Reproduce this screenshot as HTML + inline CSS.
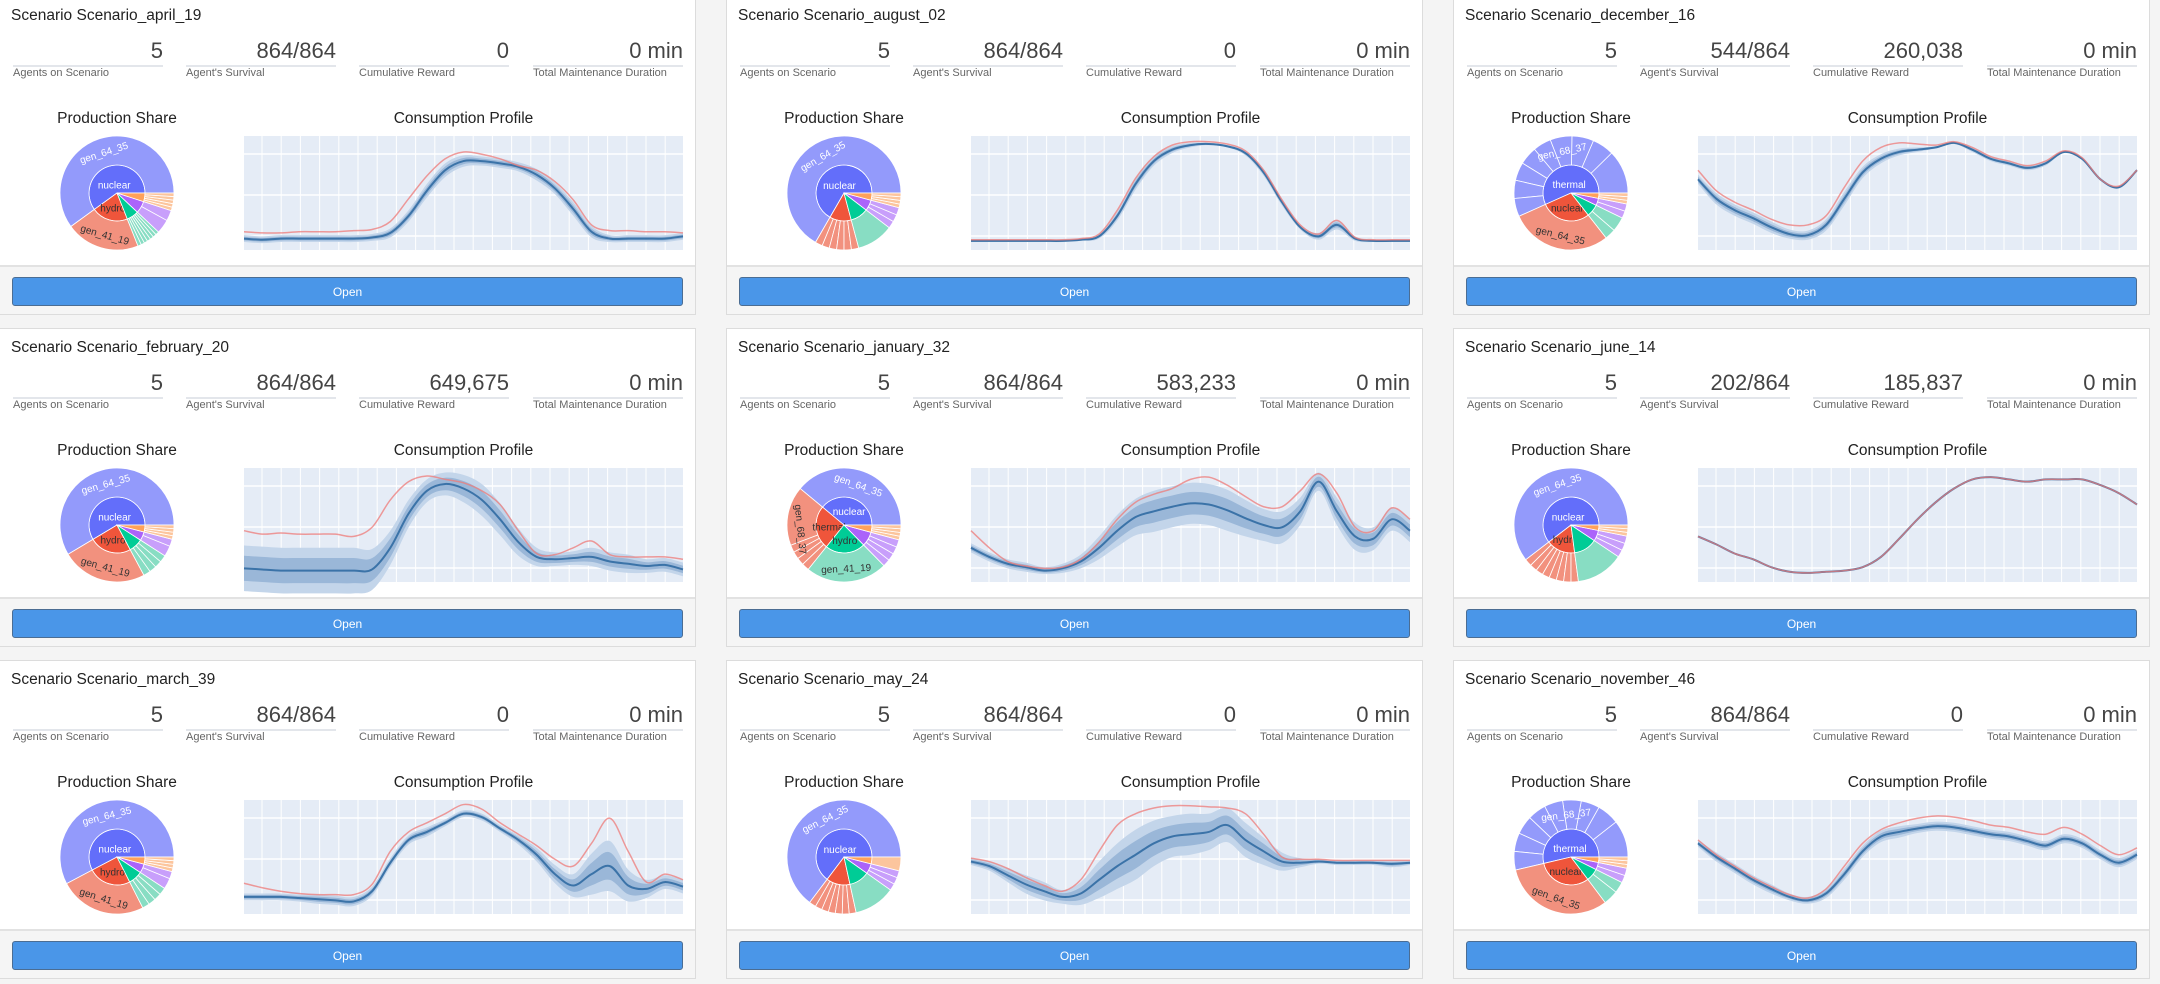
<!DOCTYPE html>
<html><head><meta charset="utf-8"><style>
body{margin:0;width:2160px;height:984px;overflow:hidden;background:#f4f4f4;font-family:"Liberation Sans",sans-serif;position:relative}
.card{position:absolute;width:697px;height:319px;background:#fff;border:1px solid #dcdcdc;box-sizing:border-box}
.foot{position:absolute;left:0;right:0;top:268px;bottom:0;background:#f5f5f5;border-top:2px solid #e2e2e2}
.title{position:absolute;left:11px;top:10px;font-size:15.5px;color:#222}
.stat{position:absolute;top:40px;width:150px;height:28px;border-bottom:2px solid #e3e6eb;text-align:right;font-size:22px;color:#444;line-height:28px}
.lab{position:absolute;top:70px;font-size:11px;color:#666}
.ct{position:absolute;top:113px;font-size:15.5px;color:#222;text-align:center}
.btn{position:absolute;left:12px;width:671px;top:10px;height:29px;background:#4a96e8;border:1px solid #4b6d93;border-radius:3px;color:#fff;font-size:12px;text-align:center;line-height:29px;box-sizing:border-box}
svg{position:absolute;left:0;top:0}
</style></head><body>
<script>
// ---- data ----
const scenarios=["Scenario_april_19","Scenario_august_02","Scenario_december_16","Scenario_february_20","Scenario_january_32","Scenario_june_14","Scenario_march_39","Scenario_may_24","Scenario_november_46"];
const agents=["5","5","5","5","5","5","5","5","5"];
const survival=["864/864","864/864","544/864","864/864","864/864","202/864","864/864","864/864","864/864"];
const rewards=["0","0","260,038","649,675","583,233","185,837","0","0","0"];
const maint=["0 min","0 min","0 min","0 min","0 min","0 min","0 min","0 min","0 min"];
const meanSeries=[
[10,9,10,10,10,10,10,11,15,30,52,70,78,78,76,73,66,54,36,16,10,10,10,10,12],
[8,8,8,8,8,8,9,12,30,58,78,88,92,93,91,85,68,42,20,12,22,10,8,8,8],
[62,45,35,28,20,14,13,22,45,68,80,86,88,90,94,88,80,76,72,76,86,80,62,55,70],
[12,11,10,10,10,10,10,11,30,60,80,86,82,72,55,35,22,20,21,22,18,16,14,15,11],
[30,22,16,13,10,12,18,30,45,57,62,66,69,68,63,56,50,48,62,88,62,40,38,55,45],
[40,33,25,20,13,9,8,9,10,13,22,38,55,70,82,90,92,90,88,90,90,90,85,78,68],
[15,15,15,14,13,12,11,20,45,65,72,80,88,85,75,65,52,35,25,35,42,25,22,28,24],
[46,42,34,26,20,15,18,30,42,52,62,68,70,72,78,65,55,46,45,46,45,45,45,44,45],
[62,50,40,30,22,15,12,18,35,55,68,72,75,77,76,73,70,68,64,60,66,62,52,45,52]];
const spreadSeries=[
[3,3,3,3,3,3,3,3,4,5,6,6,5,4,4,4,5,5,6,5,3,3,3,3,3],
[1,1,1,1,1,1,1,2,4,5,4,3,2,1,1,2,3,3,2,3,4,2,1,1,1],
[4,5,5,5,5,4,4,5,6,5,4,3,2,1,1,2,2,2,2,2,1,1,1,1,1],
[20,20,20,20,20,20,20,18,15,12,10,10,12,14,14,12,8,6,6,8,8,8,6,6,6],
[4,4,4,4,3,4,6,10,14,16,18,18,18,18,18,16,14,14,12,8,12,12,10,10,10],
[0,0,0,0,0,0,0,0,0,0,0,0,0,0,0,0,0,0,0,0,0,0,0,0,0],
[3,3,3,3,4,4,4,4,4,4,4,3,3,3,3,4,6,8,10,18,22,14,8,6,6],
[3,4,6,8,8,6,10,16,20,22,20,18,18,16,15,15,12,8,4,2,2,2,2,3,2],
[3,4,4,4,4,3,3,4,5,5,5,5,4,4,4,4,4,4,4,4,4,4,4,4,4]];
const maxSeries=[
[16,15,15,16,16,16,17,18,25,45,65,80,86,84,80,74,70,60,44,22,17,17,16,16,15],
[9,9,9,9,9,9,10,14,35,63,82,92,95,95,93,87,70,44,22,14,26,11,9,9,9],
[70,52,42,35,27,22,22,30,55,78,90,94,93,92,95,90,82,78,74,78,87,81,62,56,70],
[45,42,43,42,42,42,40,48,72,88,93,90,87,80,68,45,25,24,30,36,24,22,22,22,20],
[45,30,18,14,12,13,20,35,55,70,77,82,90,92,85,75,66,66,80,95,78,48,45,65,55],
[40,33,25,20,13,9,8,9,10,13,22,38,55,70,82,90,92,90,88,90,90,90,85,78,68],
[27,23,20,18,17,17,17,26,55,72,80,88,96,92,80,70,60,48,42,62,84,55,28,35,30],
[49,46,40,32,25,20,30,55,78,88,93,95,95,94,93,88,70,50,48,48,47,47,47,47,47],
[65,52,42,32,24,17,14,22,42,62,74,80,84,86,85,82,78,76,72,70,76,70,60,52,58]];
// pie: categories (counterclockwise from 3 o'clock), values, children
const pieCats=[
["nuclear","hydro","solar","wind","thermal"],["nuclear","hydro","solar","wind","thermal"],["thermal","nuclear","hydro","wind","solar"],
["nuclear","hydro","solar","wind","thermal"],["nuclear","thermal","hydro","wind","solar"],["nuclear","hydro","solar","wind","thermal"],
["nuclear","hydro","solar","wind","thermal"],["nuclear","hydro","solar","wind","thermal"],["thermal","nuclear","hydro","wind","solar"]];
const pieChildren=[
[[60],[21],[1,1,1,1,1,1,1],[4,3],[1,1,1,1,1]],
[[64],[2,2,2,2,2,2],[10],[2,2,2],[1,1,1,1]],
[[12,6,6,6,5,5,5,5,5],[28],[3,4],[2,2],[1,1,1]],
[[58],[24],[2,2,2,2],[3,2],[1,1,1,1]],
[[37],[16,2,2,2,2],[22],[2,2,2,2],[1,1,1,1]],
[[58],[2,2,2,2,2,2,2,2],[13],[2,2,2],[1,1,1]],
[[56],[24],[2,2,2,2],[3,2],[1,1,1,1]],
[[66],[2,2,2,2,2,2,2],[12],[2,2,2],[4]],
[[10,6,5,5,5,5,5,5,5],[30],[4,3],[2,2],[1,1,1]]];
const pieOuterLabels=[
["gen_64_35","gen_41_19","","",""],["gen_64_35","","gen_41_19","",""],["gen_68_37","gen_64_35","gen_41_19","",""],
["gen_64_35","gen_41_19","","",""],["gen_64_35","gen_68_37","gen_41_19","",""],["gen_64_35","","gen_41_16","",""],
["gen_64_35","gen_41_19","","",""],["gen_64_35","","gen_41_19","",""],["gen_68_37","gen_64_35","","",""]];
const catColor={nuclear:null};
const palInner=["#636efa","#ef553b","#00cc96","#ab63fa","#ffa15a"];
const palOuter=["#939afb","#f2917e","#88ddc3","#c89ffb","#fcc59d"];

const NS="http://www.w3.org/2000/svg";
function el(tag,attrs,parent){const e=document.createElementNS(NS,tag);for(const k in attrs)e.setAttribute(k,attrs[k]);parent.appendChild(e);return e;}
function smooth(pts){let d="M"+pts[0][0]+","+pts[0][1];for(let i=0;i<pts.length-1;i++){const p0=pts[i-1]||pts[i],p1=pts[i],p2=pts[i+1],p3=pts[i+2]||p2;
d+=" C"+(p1[0]+(p2[0]-p0[0])/6)+","+(p1[1]+(p2[1]-p0[1])/6)+" "+(p2[0]-(p3[0]-p1[0])/6)+","+(p2[1]-(p3[1]-p1[1])/6)+" "+p2[0]+","+p2[1];}return d;}
function arc(cx,cy,r0,r1,a0,a1){const f=(r,a)=>[cx+r*Math.cos(a),cy-r*Math.sin(a)];const big=(a1-a0)>Math.PI?1:0;
const p1=f(r1,a0),p2=f(r1,a1);if(r0===0){const p=f(0,0);return `M${cx},${cy} L${p1} A${r1},${r1} 0 ${big} 0 ${p2} Z`;}
const p3=f(r0,a1),p4=f(r0,a0);return `M${p1} A${r1},${r1} 0 ${big} 0 ${p2} L${p3} A${r0},${r0} 0 ${big} 1 ${p4} Z`;}

const statLabels=["Agents on Scenario","Agent's Survival","Cumulative Reward","Total Maintenance Duration"];
const statX=[13,186,359,533];
for(let n=0;n<9;n++){
 const col=n%3,row=Math.floor(n/3);
 const card=document.createElement('div');card.className='card';
 
 
 card.style.left=(727*col-1)+'px';card.style.top=(-4+332*row)+'px';
 document.body.appendChild(card);
 const t=document.createElement('div');t.className='title';t.textContent='Scenario '+scenarios[n];
 
 
 card.appendChild(t);
 const vals=[agents[n],survival[n],rewards[n],maint[n]];
 for(let s=0;s<4;s++){
  const v=document.createElement('div');v.className='stat';v.style.left=statX[s]+'px';v.textContent=vals[s];
  
  
  card.appendChild(v);
  const l=document.createElement('div');l.className='lab';l.style.left=statX[s]+'px';l.textContent=statLabels[s];
  
  
  card.appendChild(l);
 }
 const pt=document.createElement('div');pt.className='ct';pt.style.left='37px';pt.style.width='160px';pt.textContent='Production Share';
 
 
 card.appendChild(pt);
 const ctt=document.createElement('div');ctt.className='ct';ctt.style.left='244px';ctt.style.width='439px';ctt.textContent='Consumption Profile';
 
 
 card.appendChild(ctt);
 const svg=document.createElementNS(NS,'svg');svg.setAttribute('width','697');svg.setAttribute('height','268');
 
 
 card.appendChild(svg);
 // line chart
 const px=244,py=139,pw=439,ph=114;
 const bg=el('rect',{x:px,y:py,width:pw,height:ph,fill:'#e5ecf6'},svg);
 
 
 for(let gx=px+18;gx<px+pw;gx+=19.2){el('line',{x1:gx,x2:gx,y1:py,y2:py+ph,stroke:'#fff','stroke-width':1},svg);}
 [18,59,100].forEach(gy=>el('line',{x1:px,x2:px+pw,y1:py+gy,y2:py+gy,stroke:'#fff','stroke-width':1.5},svg));
 const X=i=>px+i*pw/24, Y=v=>py+ph-v/100*ph;
 const m=meanSeries[n],sp=spreadSeries[n],mx=maxSeries[n];
 const band=(k,fill,name)=>{const up=m.map((v,i)=>[X(i),Y(v+sp[i]*k)]),dn=m.map((v,i)=>[X(i),Y(v-sp[i]*k)]).reverse();
  const p=el('path',{d:smooth(up)+" L"+smooth(dn).slice(1)+" Z",fill:fill},svg);
  
  };
 band(1,'#c3d5ea','outer-band');band(0.55,'#9ab7d8','inner-band');
 const ml=el('path',{d:smooth(m.map((v,i)=>[X(i),Y(v)])),fill:'none',stroke:'#3b73a8','stroke-width':2},svg);
 
 
 const rl=el('path',{d:smooth(mx.map((v,i)=>[X(i),Y(v)])),fill:'none',stroke:'#ee7b78','stroke-width':1.5,'stroke-opacity':0.75},svg);
 
 
 // sunburst
 const cx=117,cy=196,r1=28,r2=57;
 const cats=pieCats[n],kids=pieChildren[n];
 const tot=kids.reduce((a,c)=>a+c.reduce((x,y)=>x+y,0),0);
 let a=0;
 cats.forEach((c,ci)=>{const cv=kids[ci].reduce((x,y)=>x+y,0);const a0=a,a1=a+cv/tot*2*Math.PI;
  const w=el('path',{d:arc(cx,cy,0,r1,a0,a1),fill:palInner[ci],stroke:'#fff','stroke-width':0.8},svg);
  
  
  let b=a0;kids[ci].forEach(kv=>{const b1=b+kv/tot*2*Math.PI;
   const o=el('path',{d:arc(cx,cy,r1,r2,b,b1),fill:palOuter[ci],stroke:'#fff','stroke-width':0.8},svg);
   
   
   b=b1;});
  const mid=(a0+a1)/2;
  if(cv/tot>0.15){
   const tx=cx+15*Math.cos(mid)*(cv/tot>0.5?0.6:1),ty=cy-15*Math.sin(mid)*(cv/tot>0.5?0.6:1);
   const tt=el('text',{x:tx,y:ty+4,'font-size':10,fill:ci===0?'#fff':'#333','text-anchor':'middle','font-family':'Liberation Sans, sans-serif'},svg);
   tt.textContent=c;
   
   
   const ol=pieOuterLabels[n][ci];
   if(ol){let deg=-mid*180/Math.PI+90;if(deg>90)deg-=180;if(deg<-90)deg+=180;
    const ox=cx+43*Math.cos(mid),oy=cy-43*Math.sin(mid);
    const t2=el('text',{x:ox,y:oy+4,'font-size':10,fill:ci===0?'#fff':'#333','text-anchor':'middle','font-family':'Liberation Sans, sans-serif',transform:`rotate(${deg} ${ox} ${oy})`},svg);
    t2.textContent=ol;
    
    }
  }
  a=a1;});
 const foot=document.createElement('div');foot.className='foot';
 
 
 card.appendChild(foot);
 const btn=document.createElement('div');btn.className='btn';btn.textContent='Open';
 
 
 foot.appendChild(btn);
}
</script>
</body></html>
